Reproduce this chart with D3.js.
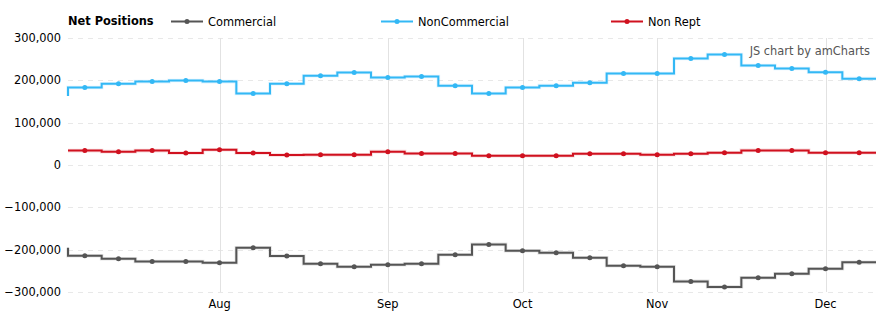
<!DOCTYPE html>
<html><head><meta charset="utf-8">
<script src="https://cdn.jsdelivr.net/npm/d3@7"></script>
<style>body{margin:0;background:#fff}svg{display:block;font-family:"DejaVu Sans",Verdana,sans-serif}</style>
</head><body><svg id="c" width="889" height="328"></svg>
<script>
const dates = ["2016-07-05","2016-07-12","2016-07-19","2016-07-26","2016-08-02","2016-08-09","2016-08-16","2016-08-23","2016-08-30","2016-09-06","2016-09-13","2016-09-20","2016-09-27","2016-10-04","2016-10-11","2016-10-18","2016-10-25","2016-11-01","2016-11-08","2016-11-15","2016-11-22","2016-11-29","2016-12-06","2016-12-13"];
const commercial = [-214500,-221500,-228000,-228000,-231000,-195500,-215000,-233500,-240500,-235500,-233500,-212000,-187500,-202500,-207500,-219000,-238000,-240500,-275000,-288000,-266500,-257000,-245000,-230000];
const nonCommercial = [183000,192000,197000,199500,197000,169000,192000,211000,218500,206500,209000,187500,169000,183000,187500,194500,216000,216000,251500,261000,235000,228000,219000,204000];
const nonRept = [34000,31500,34000,28500,36000,28500,23500,24000,24000,31500,27000,27000,22000,22000,22000,26500,26500,24500,26500,29000,34500,34500,29000,29000];
// value of the week before the first visible one (line enters from the left edge)
const prevValues = {commercial:-195500, nonCommercial:163000, nonRept:34000};
const yTicks = [-300000,-200000,-100000,0,100000,200000,300000];
const monthTicks = ["2016-08-02","2016-09-06","2016-10-04","2016-11-01","2016-12-06"];
const monthLabels = ["Aug","Sep","Oct","Nov","Dec"];

const series = [
  {key:"commercial", name:"Commercial", values:commercial, color:"#555555"},
  {key:"nonCommercial", name:"NonCommercial", values:nonCommercial, color:"#33b8f5"},
  {key:"nonRept", name:"Non Rept", values:nonRept, color:"#d0111f"}
];

const FS = 11.4;
const svg = d3.select("#c");
const L=68, R=876, T=38, B=292;
const x = d3.scaleBand().domain(dates).range([L,R]).padding(0);
const y = d3.scaleLinear().domain([-300000,300000]).range([B,T]);
const bw = x.bandwidth();
const cx = d => x(d)+bw/2;

// horizontal dashed grid
svg.append("g").selectAll("line").data(yTicks).join("line")
  .attr("x1",L).attr("x2",R).attr("y1",d=>Math.round(y(d))+0.5).attr("y2",d=>Math.round(y(d))+0.5)
  .attr("stroke","#e8e8e8").attr("stroke-dasharray","5,5");
// vertical month grid
svg.append("g").selectAll("line").data(monthTicks).join("line")
  .attr("x1",d=>Math.round(cx(d))+0.5).attr("x2",d=>Math.round(cx(d))+0.5).attr("y1",T).attr("y2",B)
  .attr("stroke","#e2e2e2");

// y axis
const yAxis = d3.axisLeft(y).tickValues(yTicks).tickSize(0).tickPadding(0).tickFormat(d3.format(","));
const yg = svg.append("g").attr("transform",`translate(${L-7},0)`).call(yAxis);
yg.select(".domain").remove();
yg.selectAll("text").attr("font-size",FS).attr("fill","#000").attr("font-family","DejaVu Sans, Verdana, sans-serif");

// x axis
const xAxis = d3.axisBottom(x).tickValues(monthTicks).tickSize(0).tickPadding(0)
  .tickFormat(d=>monthLabels[monthTicks.indexOf(d)]);
const xg = svg.append("g").attr("transform",`translate(0,${B+8})`).call(xAxis);
xg.select(".domain").remove();
xg.selectAll("text").attr("font-size",FS).attr("fill","#000").attr("font-family","DejaVu Sans, Verdana, sans-serif");

// step lines
series.forEach(s=>{
  let p = d3.path();
  p.moveTo(L, y(prevValues[s.key]));
  s.values.forEach((v,i)=>{
    const x0 = x(dates[i]);
    p.lineTo(x0, y(v));
    p.lineTo(x0+bw, y(v));
  });
  svg.append("path").attr("d",p.toString()).attr("fill","none")
    .attr("stroke",s.color).attr("stroke-opacity",0.15).attr("stroke-width",3.6);
  svg.append("path").attr("d",p.toString()).attr("fill","none")
    .attr("stroke",s.color).attr("stroke-width",2);
  svg.append("g").selectAll("circle").data(s.values).join("circle")
    .attr("cx",(v,i)=>cx(dates[i])).attr("cy",v=>y(v)).attr("r",2.5).attr("fill",s.color);
});

// legend
svg.append("text").attr("x",68).attr("y",25).attr("font-size",FS).attr("font-weight","bold").text("Net Positions");
const legX = [171,381,611];
series.forEach((s,i)=>{
  const g = svg.append("g").attr("transform",`translate(${legX[i]},21)`);
  g.append("line").attr("x1",0).attr("x2",32).attr("y1",0.5).attr("y2",0.5).attr("stroke",s.color).attr("stroke-width",2);
  g.append("circle").attr("cx",16).attr("cy",0.5).attr("r",2.5).attr("fill",s.color);
  g.append("text").attr("x",37).attr("y",4.5).attr("font-size",FS).attr("fill","#000").text(s.name);
});

// credit
svg.append("text").attr("x",870).attr("y",55).attr("text-anchor","end").attr("font-size",FS).attr("fill","#555").text("JS chart by amCharts");
</script></body></html>
